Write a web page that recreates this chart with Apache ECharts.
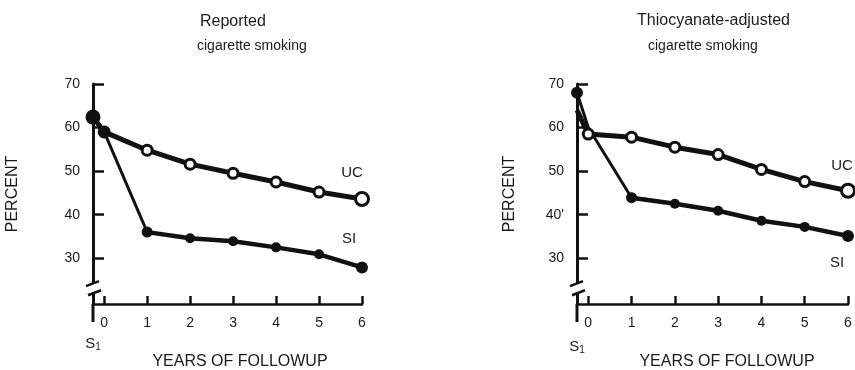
<!DOCTYPE html>
<html><head><meta charset="utf-8">
<script src="https://cdn.jsdelivr.net/npm/echarts@6/dist/echarts.min.js"></script>
<style>html,body{margin:0;padding:0;background:#fff}#c{width:855px;height:370px}</style>
</head><body><div id="c"></div>
<script>
// ---- data ----
const S1_POS = -0.26;                       // x position of the S1 (baseline) point
const xLabels = ['S1', '0', '1', '2', '3', '4', '5', '6'];
const xValues = [S1_POS, 0, 1, 2, 3, 4, 5, 6];
const yTicks = [30, 40, 50, 60, 70];
const xTicks = [0, 1, 2, 3, 4, 5, 6];

const reportedUC = [62.4, 59, 54.8, 51.6, 49.5, 47.5, 45.2, 43.6];
const reportedSI = [62.4, 59, 36.0, 34.6, 33.9, 32.5, 30.9, 27.9];
const thioUC     = [64, 58.5, 57.8, 55.5, 53.8, 50.4, 47.6, 45.5];
const thioSI     = [68, 60, 43.9, 42.5, 40.9, 38.6, 37.2, 35.1];

const panelTitles = [['Reported', 'cigarette smoking'], ['Thiocyanate-adjusted', 'cigarette smoking']];
const seriesNames = ['UC', 'SI'];
const yName = 'PERCENT';
const xName = 'YEARS OF FOLLOWUP';

// ---- chart ----
const FONT = "'Liberation Sans', Arial, Helvetica, sans-serif";
const INK = '#111';
const chart = echarts.init(document.getElementById('c'));

const grids = [
  {left: 93, width: 269, top: 84, height: 220},
  {left: 577, width: 271, top: 84, height: 220}
];
const Y_MIN = 19.5, Y_MAX = 70;

function pts(vals, from, to) {
  const out = [];
  for (let i = from; i <= to; i++) out.push([xValues[i], vals[i]]);
  return out;
}

function xAxisCfg(i) {
  return {
    type: 'value', gridIndex: i, min: S1_POS, max: 6,
    axisLine: {show: true, onZero: false, lineStyle: {color: INK, width: 2.5}},
    axisTick: {show: true, inside: true, length: 8, customValues: xTicks, lineStyle: {color: INK, width: 2.5}},
    axisLabel: {show: true, customValues: xTicks, margin: 12, color: '#1a1a1a', fontSize: 14, fontFamily: FONT},
    splitLine: {show: false}
  };
}
function yAxisCfg(i) {
  return {
    type: 'value', gridIndex: i, min: Y_MIN, max: Y_MAX,
    name: yName, nameLocation: 'middle', nameRotate: 90, nameGap: i === 0 ? 72 : 59,
    nameTextStyle: {fontSize: 16, color: '#1a1a1a', fontFamily: FONT},
    axisLine: {show: true, onZero: false, lineStyle: {color: INK, width: 3}},
    axisTick: {show: true, inside: true, length: 11, customValues: yTicks, lineStyle: {color: INK, width: 2.5}},
    axisLabel: {show: true, customValues: yTicks, margin: 13, color: '#1a1a1a', fontSize: 14, fontFamily: FONT,
      padding: [0, 0, 8, 0],
      formatter: v => (i === 1 && v === 40) ? "40'" : String(v)},
    splitLine: {show: false}
  };
}

function endLabel(name, dx, dy) {
  return {show: true, formatter: name, position: 'inside', offset: [dx, dy],
    color: '#1a1a1a', fontSize: 15, fontFamily: FONT};
}

function panelSeries(i, uc, si, ucLab, siLab, ucOnTop) {
  const ucData = pts(uc, 0, 7).map((p, k) => {
    const d = {value: p};
    if (k === 0) d.symbol = 'none';
    if (k === 7) { d.symbolSize = 13; d.label = endLabel('UC', ucLab[0], ucLab[1]); }
    return d;
  });
  const drop = pts(si, 0, 2).map((p, k) => {
    const d = {value: p};
    if (k === 0) d.symbolSize = i === 0 ? 15 : 12;
    if (k === 1 && i === 1) d.symbol = 'none';
    return d;
  });
  const siData = pts(si, 2, 7).map((p, k) => {
    const d = {value: p};
    if (k === 5) { d.symbolSize = 12; d.label = endLabel('SI', siLab[0], siLab[1]); }
    return d;
  });
  const ucS = {type: 'line', name: 'UC', xAxisIndex: i, yAxisIndex: i, data: ucData,
    symbol: 'circle', symbolSize: 10, showSymbol: true,
    lineStyle: {color: INK, width: 5}, itemStyle: {color: '#fff', borderColor: INK, borderWidth: 3},
    z: ucOnTop ? 5 : 3, animation: false};
  const dropS = {type: 'line', name: 'SI', xAxisIndex: i, yAxisIndex: i, data: drop,
    symbol: 'circle', symbolSize: 11,
    lineStyle: {color: INK, width: 3}, itemStyle: {color: INK, borderWidth: 0},
    z: ucOnTop ? 3 : 5, animation: false};
  const siS = {type: 'line', name: 'SI', xAxisIndex: i, yAxisIndex: i, data: siData,
    symbol: 'circle', symbolSize: 10,
    lineStyle: {color: INK, width: 4.5}, itemStyle: {color: INK, borderWidth: 0},
    z: 4, animation: false};
  return [ucS, dropS, siS];
}

const titleStyle = (sz) => ({fontSize: sz, fontWeight: 'normal', color: '#1a1a1a', fontFamily: FONT});

chart.setOption({
  backgroundColor: '#fff',
  animation: false,
  title: [
    {text: panelTitles[0][0], left: 200, top: 14, textStyle: titleStyle(16), padding: 0},
    {text: panelTitles[0][1], left: 197, top: 39, textStyle: titleStyle(14), padding: 0},
    {text: panelTitles[1][0], left: 637, top: 13, textStyle: titleStyle(16), padding: 0},
    {text: panelTitles[1][1], left: 648, top: 39, textStyle: titleStyle(14), padding: 0}
  ],
  grid: grids,
  xAxis: [xAxisCfg(0), xAxisCfg(1)],
  yAxis: [yAxisCfg(0), yAxisCfg(1)],
  series: [
    ...panelSeries(0, reportedUC, reportedSI, [-10, -26], [-13, -29], false),
    ...panelSeries(1, thioUC, thioSI, [-6, -25], [-11, 27], true)
  ]
});

// decorations: axis break, axis extension below x axis, S1 and axis-name text
const gfx = [];
const xNameCenters = [240, 727];
for (let i = 0; i < 2; i++) {
  const top = chart.convertToPixel({gridIndex: i}, [S1_POS, 24.3]);
  const bot = chart.convertToPixel({gridIndex: i}, [S1_POS, 22.2]);
  const base = chart.convertToPixel({gridIndex: i}, [S1_POS, Y_MIN]);
  const ax = top[0];
  gfx.push({type: 'rect', shape: {x: ax - 4, y: top[1], width: 8, height: bot[1] - top[1]}, style: {fill: '#fff'}, z: 50});
  gfx.push({type: 'line', shape: {x1: ax - 7, y1: top[1] + 3, x2: ax + 6, y2: top[1] - 2}, style: {stroke: INK, lineWidth: 2.5}, z: 51});
  gfx.push({type: 'line', shape: {x1: ax - 5, y1: bot[1] + 3, x2: ax + 8, y2: bot[1] - 2}, style: {stroke: INK, lineWidth: 2.5}, z: 51});
  gfx.push({type: 'line', shape: {x1: ax, y1: base[1], x2: ax, y2: base[1] + 18}, style: {stroke: INK, lineWidth: 3}, z: 51});
  gfx.push({type: 'text', x: ax, y: base[1] + 40 + i * 3, z: 51,
    style: {text: '{s|S}{t|1}', align: 'center', verticalAlign: 'middle',
      rich: {s: {fontSize: 15, fontFamily: FONT, fill: '#1a1a1a'}, t: {fontSize: 10, fontFamily: FONT, fill: '#1a1a1a', padding: [6, 0, 0, 0]}}}});
  gfx.push({type: 'text', x: xNameCenters[i], y: 362, z: 51,
    style: {text: xName, align: 'center', verticalAlign: 'middle', fontSize: 16, fontFamily: FONT, fill: '#1a1a1a'}});
}
chart.setOption({graphic: gfx});
</script>
</body></html>
